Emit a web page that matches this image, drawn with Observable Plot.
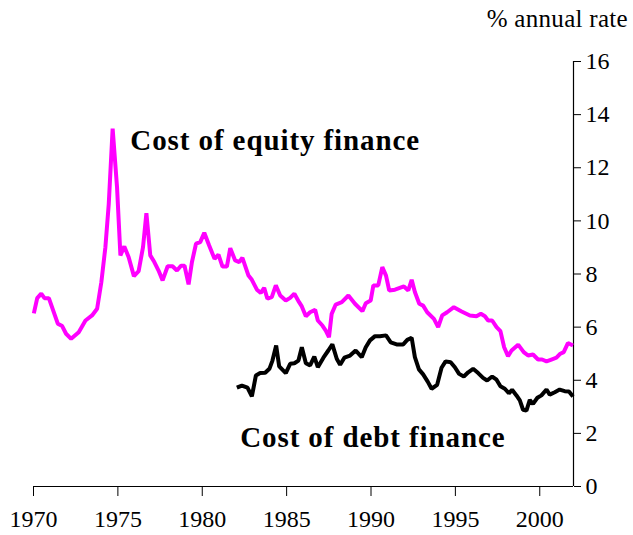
<!DOCTYPE html>
<html>
<head>
<meta charset="utf-8">
<script src="https://cdn.jsdelivr.net/npm/d3@7"></script>
<script src="https://cdn.jsdelivr.net/npm/@observablehq/plot@0.6"></script>
<style>
  html, body { margin: 0; padding: 0; background: #fff; }
  #wrap { width: 633px; font-family: "Liberation Serif", "Times New Roman", serif; }
  #title { height: 40px; box-sizing: border-box; padding-top: 5px; padding-right: 5px; text-align: right; font-size: 25px; line-height: 28px; color: #000; letter-spacing: 0.3px; }
  svg { display: block; }
  #chart g[aria-label="text"] text { letter-spacing: 0.9px; }
</style>
</head>
<body>
<div id="wrap">
  <div id="title">% annual rate</div>
  <div id="chart"></div>
</div>
<script>
// Cost of equity finance (% annual rate)
const equityYears = [1970.02,1970.22,1970.46,1970.65,1970.91,1971.44,1971.70,1971.93,1972.23,1972.68,1973.08,1973.47,1973.77,1974.02,1974.26,1974.46,1974.69,1974.95,1975.15,1975.38,1975.64,1975.95,1976.23,1976.49,1976.69,1976.92,1977.16,1977.41,1977.65,1977.95,1978.24,1978.50,1978.74,1978.95,1979.19,1979.39,1979.63,1979.88,1980.12,1980.41,1980.73,1980.96,1981.20,1981.46,1981.66,1981.95,1982.19,1982.38,1982.74,1982.94,1983.24,1983.47,1983.67,1983.86,1984.12,1984.36,1984.62,1984.95,1985.21,1985.46,1985.74,1985.90,1986.14,1986.39,1986.69,1986.85,1987.12,1987.32,1987.51,1987.67,1987.91,1988.27,1988.66,1989.05,1989.49,1989.69,1989.98,1990.14,1990.43,1990.67,1990.89,1991.08,1991.42,1991.95,1992.21,1992.41,1992.60,1992.86,1993.09,1993.33,1993.73,1993.98,1994.22,1994.51,1994.91,1995.37,1995.86,1996.25,1996.51,1996.75,1996.94,1997.18,1997.44,1997.67,1997.89,1998.12,1998.33,1998.72,1999.05,1999.31,1999.60,1999.90,2000.14,2000.40,2000.69,2000.99,2001.22,2001.42,2001.67,2001.97];
const equityValues = [6.52,7.09,7.26,7.09,7.09,6.13,6.04,5.75,5.56,5.81,6.25,6.44,6.69,7.69,9.01,10.64,13.47,11.27,8.70,9.04,8.63,7.92,8.11,9.01,10.29,8.70,8.45,8.13,7.76,8.29,8.29,8.13,8.31,8.31,7.61,8.45,9.14,9.20,9.55,9.07,8.57,8.73,8.28,8.28,8.97,8.51,8.45,8.61,7.94,7.78,7.41,7.29,7.48,7.07,7.13,7.57,7.19,7.00,7.10,7.26,6.94,6.78,6.41,6.56,6.65,6.25,6.06,5.87,5.62,6.50,6.85,6.94,7.19,6.88,6.60,6.90,7.00,7.57,7.57,8.26,7.94,7.38,7.41,7.53,7.38,7.78,7.32,6.88,6.81,6.56,6.31,6.00,6.44,6.56,6.75,6.59,6.44,6.41,6.50,6.41,6.25,6.25,6.00,5.85,5.24,4.91,5.12,5.34,5.06,4.93,4.97,4.78,4.78,4.71,4.78,4.85,5.00,5.06,5.40,5.31];

// Cost of debt finance (% annual rate)
const debtYears = [1982.05,1982.35,1982.68,1982.94,1983.18,1983.43,1983.73,1983.98,1984.16,1984.38,1984.56,1984.95,1985.21,1985.46,1985.70,1985.90,1986.14,1986.39,1986.64,1986.85,1987.18,1987.47,1987.71,1987.97,1988.17,1988.42,1988.76,1989.09,1989.45,1989.69,1989.94,1990.24,1990.53,1990.89,1991.17,1991.52,1991.91,1992.15,1992.41,1992.60,1992.84,1993.09,1993.36,1993.59,1993.92,1994.18,1994.42,1994.72,1994.97,1995.22,1995.50,1995.76,1996.05,1996.35,1996.64,1996.88,1997.18,1997.44,1997.67,1997.93,1998.17,1998.36,1998.62,1998.82,1999.01,1999.21,1999.41,1999.60,1999.86,2000.10,2000.40,2000.59,2000.89,2001.18,2001.48,2001.73,2001.97];
const debtValues = [3.72,3.80,3.72,3.39,4.18,4.27,4.28,4.43,4.74,5.31,4.52,4.27,4.62,4.64,4.74,5.24,4.64,4.56,4.89,4.49,4.85,5.12,5.35,4.81,4.58,4.85,4.93,5.12,4.87,5.24,5.50,5.66,5.66,5.69,5.43,5.35,5.35,5.52,5.60,4.87,4.41,4.22,3.95,3.68,3.83,4.47,4.71,4.68,4.49,4.24,4.14,4.30,4.43,4.27,4.09,3.99,4.14,4.02,3.77,3.68,3.51,3.64,3.43,3.24,2.89,2.86,3.26,3.11,3.34,3.43,3.65,3.46,3.55,3.65,3.59,3.58,3.39];

const xTicks = [1970, 1975, 1980, 1985, 1990, 1995, 2000];
const yTicks = [0, 2, 4, 6, 8, 10, 12, 14, 16];
const xDomain = [1970, 2002];
const yDomain = [0, 16];

const labels = [
  {text: "Cost of equity finance", year: 1975.74, value: 13.0},
  {text: "Cost of debt finance", year: 1982.25, value: 1.85}
];

const equity = equityYears.map((y, i) => ({year: y, value: equityValues[i]}));
const debt = debtYears.map((y, i) => ({year: y, value: debtValues[i]}));

const chart = Plot.plot({
  width: 633,
  height: 495,
  marginLeft: 33,
  marginRight: 60,
  marginTop: 21,
  marginBottom: 49,
  style: {fontFamily: '"Liberation Serif", "Times New Roman", serif', fontSize: "24px", color: "#000", background: "#fff"},
  x: {domain: xDomain},
  y: {domain: yDomain},
  marks: [
    Plot.axisX({ticks: xTicks, tickFormat: "d", tickSize: 10, tickPadding: 13, label: null, stroke: "#000", strokeWidth: 1, fontSize: 24}),
    Plot.axisY({anchor: "right", ticks: yTicks, tickSize: 7, tickPadding: 5, label: null, stroke: "#000", strokeWidth: 1, fontSize: 24}),
    Plot.ruleY([yDomain[0]], {stroke: "#000", strokeWidth: 1.2}),
    Plot.ruleX([xDomain[1]], {y1: yDomain[0], y2: yDomain[1], stroke: "#000", strokeWidth: 1.2}),
    Plot.line(equity, {x: "year", y: "value", stroke: "#ff00ff", strokeWidth: 4, strokeLinejoin: "miter", strokeLinecap: "butt"}),
    Plot.line(debt, {x: "year", y: "value", stroke: "#000", strokeWidth: 4, strokeLinejoin: "miter", strokeLinecap: "butt"}),
    Plot.text(labels, {x: "year", y: "value", text: "text", textAnchor: "start", lineAnchor: "middle", fontSize: 29, fontWeight: "bold", fill: "#000"})
  ]
});
document.getElementById("chart").appendChild(chart);
</script>
</body>
</html>
